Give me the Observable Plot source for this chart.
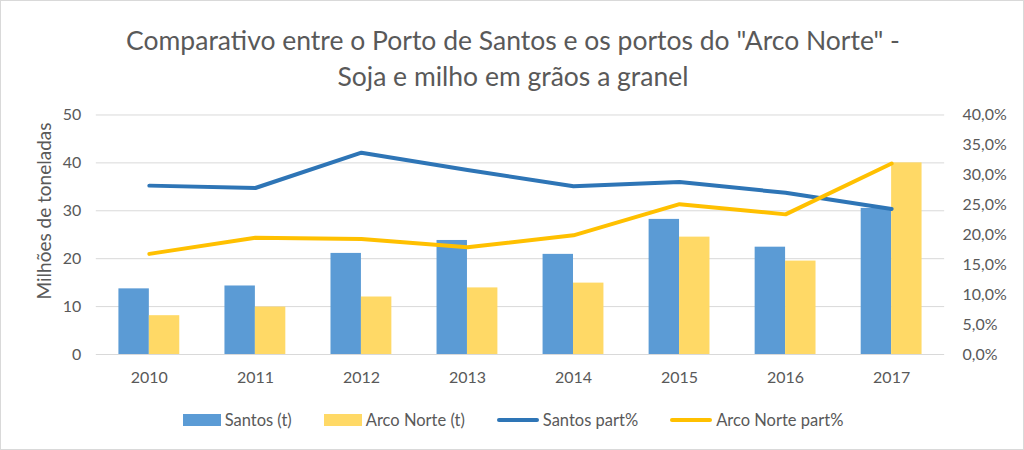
<!DOCTYPE html>
<html>
<head>
<meta charset="utf-8">
<script src="https://cdn.jsdelivr.net/npm/d3@7"></script>
<script src="https://cdn.jsdelivr.net/npm/@observablehq/plot@0.6"></script>
<style>
  html, body { margin: 0; padding: 0; background: #fff; }
  #chart { position: relative; width: 1024px; height: 450px; box-sizing: border-box; border: 1px solid #d9d9d9; overflow: hidden; font-family: Lato, "Open Sans", sans-serif; color: #595959; }
  #title { position: absolute; left: 0; top: 21px; width: 1024px; text-align: center; font-size: 26.5px; line-height: 36px; color: #595959; }
  #plot { position: absolute; left: 0; top: 95px; }
  #ylabel { position: absolute; left: 42px; top: 210px; transform: translate(-50%, -50%) rotate(-90deg); white-space: nowrap; font-size: 19px; color: #595959; }
  #legend { position: absolute; left: 0; top: 409px; width: 1024px; display: flex; justify-content: center; align-items: center; font-size: 16.5px; color: #595959; }
  .item { display: flex; align-items: center; margin: 0 16px; }
  .sw { display: inline-block; margin-right: 4px; }
</style>
</head>
<body>
<div id="chart">
  <div id="title">Comparativo entre o Porto de Santos e os portos do "Arco Norte" -<br>Soja e milho em grãos a granel</div>
  <div id="plot"></div>
  <div id="ylabel">Milhões de toneladas</div>
  <div id="legend"></div>
</div>
<script>
const years = [2010, 2011, 2012, 2013, 2014, 2015, 2016, 2017];
const santosT = [13.7, 14.3, 21.1, 23.8, 20.9, 28.2, 22.4, 30.5];
const arcoT = [8.1, 9.9, 12.0, 13.9, 14.9, 24.5, 19.5, 40.0];
const santosPct = [28.2, 27.8, 33.7, 30.8, 28.1, 28.8, 27.0, 24.3];
const arcoPct = [16.8, 19.5, 19.3, 17.9, 19.9, 25.1, 23.4, 31.9];
const leftTicks = [0, 10, 20, 30, 40, 50];
const rightTicks = [0, 5, 10, 15, 20, 25, 30, 35, 40];
const seriesNames = ["Santos (t)", "Arco Norte (t)", "Santos part%", "Arco Norte part%"];
const colors = ["#5B9BD5", "#FFD966", "#2E75B6", "#FFC000"];

const rows = years.map((year, i) => ({year, santos: santosT[i], arco: arcoT[i], sp: santosPct[i], ap: arcoPct[i]}));
const k = 50 / 40; // percent -> left scale
const bw = 0.287;

const chart = Plot.plot({
  width: 1024,
  height: 300,
  marginTop: 18.5,
  marginBottom: 41.5,
  marginLeft: 95,
  marginRight: 79,
  x: {domain: [2009.5, 2017.5]},
  y: {domain: [0, 50]},
  style: {fontFamily: "Lato, 'Open Sans', sans-serif", fontSize: "16px", color: "#595959", background: "transparent"},
  marks: [
    Plot.gridY(leftTicks, {stroke: "#d9d9d9", strokeOpacity: 1, strokeWidth: 1}),
    Plot.rectY(rows, {x1: d => d.year - bw, x2: d => d.year, y: "santos", fill: colors[0]}),
    Plot.rectY(rows, {x1: d => d.year, x2: d => d.year + bw, y: "arco", fill: colors[1]}),
    Plot.lineY(rows, {x: "year", y: d => d.sp * k, stroke: colors[2], strokeWidth: 4}),
    Plot.lineY(rows, {x: "year", y: d => d.ap * k, stroke: colors[3], strokeWidth: 4}),
    Plot.axisY(leftTicks, {anchor: "left", tickSize: 0, tickPadding: 15, label: null, fill: "#595959"}),
    Plot.axisY(rightTicks.map(v => v * k), {anchor: "right", tickSize: 0, tickPadding: 18, label: null, fill: "#595959",
      tickFormat: v => (v / k).toFixed(1).replace(".", ",") + "%"}),
    Plot.axisX(years, {anchor: "bottom", tickSize: 0, tickPadding: 17, label: null, fill: "#595959", tickFormat: d => String(d)})
  ]
});
document.getElementById("plot").appendChild(chart);

const legend = document.getElementById("legend");
seriesNames.forEach((name, i) => {
  const item = document.createElement("div");
  item.className = "item";
  const sw = document.createElement("span");
  sw.className = "sw";
  if (i < 2) { sw.style.width = "38px"; sw.style.height = "12px"; }
  else { sw.style.width = "42px"; sw.style.height = "4px"; sw.style.borderRadius = "2px"; }
  sw.style.background = colors[i];
  const t = document.createElement("span");
  t.textContent = name;
  item.appendChild(sw);
  item.appendChild(t);
  legend.appendChild(item);
});
</script>
</body>
</html>
